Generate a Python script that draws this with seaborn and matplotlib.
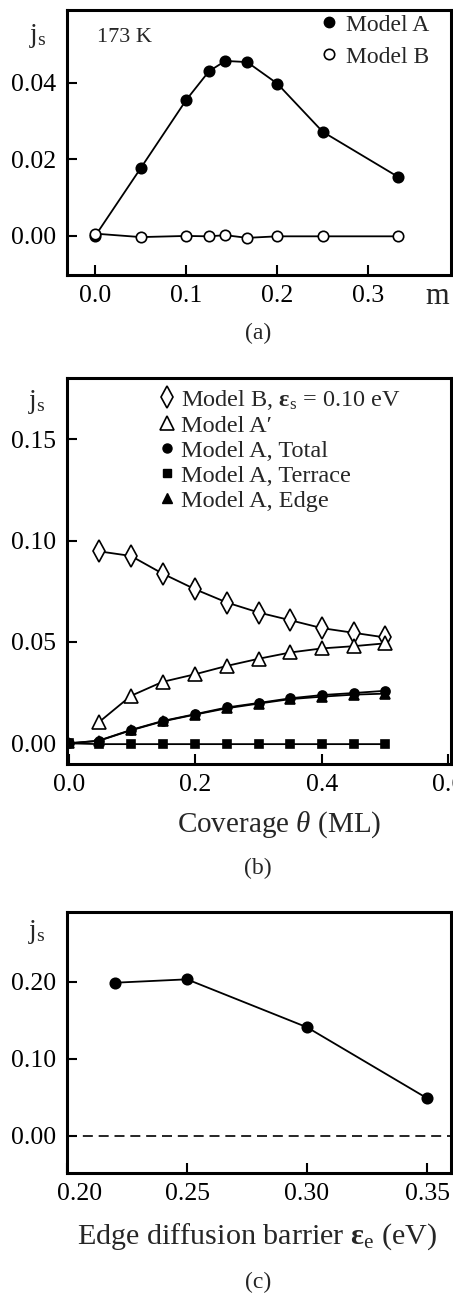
import numpy as np
import pandas as pd
import matplotlib
matplotlib.use("Agg")
import matplotlib.pyplot as plt
import matplotlib.transforms as mtransforms
from matplotlib.lines import Line2D
import seaborn as sns

# -----------------------------
# Data
# -----------------------------
# (a) j_s vs m at 173 K
m_vals = [0.0, 0.05, 0.10, 0.125, 0.143, 0.167, 0.20, 0.25, 0.333]
js_model_a = [0.0, 0.0177, 0.0355, 0.0430, 0.0457, 0.0454, 0.0398, 0.0272, 0.0154]
js_model_b = [0.0006, -0.0003, 0.0, -0.0001, 0.0002, -0.0005, -0.0001, -0.0001, -0.0001]

# (b) j_s vs coverage
theta_vals = [0.047, 0.098, 0.148, 0.20, 0.25, 0.30, 0.35, 0.40, 0.45, 0.50]
js_b_model_b = [0.0947, 0.0924, 0.0837, 0.0759, 0.0694, 0.0645, 0.0607, 0.0568, 0.0545, 0.0522]
js_b_model_a_prime = [0.0103, 0.0234, 0.0303, 0.0341, 0.0382, 0.0417, 0.0448, 0.0468, 0.0479, 0.0493]
theta_vals_a = [0.0] + theta_vals
js_b_total = [0.0, 0.0013, 0.0066, 0.0110, 0.0144, 0.0177, 0.0199, 0.0222, 0.0238, 0.0248, 0.0259]
js_b_terrace = [0.0, -0.0004, -0.0004, -0.0004, -0.0004, -0.0004, -0.0004, -0.0004, -0.0004, -0.0004, -0.0004]
js_b_edge = [0.0, 0.0012, 0.0064, 0.0108, 0.0142, 0.0173, 0.0196, 0.0218, 0.0230, 0.0240, 0.0245]

# (c) j_s vs edge diffusion barrier
eps_e = [0.22, 0.25, 0.30, 0.35]
js_c = [0.1987, 0.2031, 0.1408, 0.0486]

# -----------------------------
# Style
# -----------------------------
sns.set_theme(style="ticks")
plt.rcParams["font.family"] = ["Liberation Serif", "DejaVu Serif"]
plt.rcParams["mathtext.fontset"] = "custom"
plt.rcParams["mathtext.rm"] = "Liberation Serif"
plt.rcParams["mathtext.it"] = "Liberation Serif:italic"
plt.rcParams["mathtext.bf"] = "Liberation Serif:bold"
plt.rcParams["axes.edgecolor"] = "black"
plt.rcParams["axes.linewidth"] = 2.2
plt.rcParams["xtick.direction"] = "in"
plt.rcParams["ytick.direction"] = "in"
plt.rcParams["xtick.major.size"] = 7
plt.rcParams["ytick.major.size"] = 7
plt.rcParams["xtick.major.width"] = 1.5
plt.rcParams["ytick.major.width"] = 1.5
plt.rcParams["xtick.major.pad"] = 7
plt.rcParams["ytick.major.pad"] = 8
plt.rcParams["xtick.color"] = "black"
plt.rcParams["ytick.color"] = "black"

W, H = 453, 1294
fig = plt.figure(figsize=(W / 100, H / 100), dpi=100)


def px_axes(left, top, right, bottom):
    return fig.add_axes([left / W, 1 - bottom / H, (right - left) / W, (bottom - top) / H])


def px_text(x, y, s, **kw):
    fig.text(x / W, 1 - y / H, s, ha="center", va="center", **kw)


TICK_FS = 18.5
LW = 1.3
line_kw = dict(color="black", linewidth=LW, markeredgecolor="black", markeredgewidth=1.2)

# -----------------------------
# Panel (a)
# -----------------------------
ax_a = px_axes(67, 10, 451, 275)
sns.lineplot(x=m_vals, y=js_model_a, ax=ax_a, marker="o", markersize=7.5,
             markerfacecolor="black", **line_kw)
sns.lineplot(x=m_vals, y=js_model_b, ax=ax_a, marker="o", markersize=7.5,
             markerfacecolor="white", **line_kw)
ax_a.set_xlim(-0.031, 0.391)
ax_a.set_ylim(-0.0102, 0.059)
ax_a.set_xticks([0.0, 0.1, 0.2, 0.3], ["0.0", "0.1", "0.2", "0.3"])
ax_a.set_yticks([0.0, 0.02, 0.04], ["0.00", "0.02", "0.04"])
ax_a.set_xlabel("m", fontsize=22)
ax_a.xaxis.set_label_coords((437 - 67) / 384, (275 - 297) / 265)
ax_a.xaxis.label.set_va("center")
ax_a.text((97 - 67) / 384, (275 - 38) / 265, "173 K", transform=ax_a.transAxes,
          fontsize=16, ha="left", va="center")
handles_a = [
    Line2D([], [], ls="none", marker="o", markersize=7.5, color="black", markerfacecolor="black"),
    Line2D([], [], ls="none", marker="o", markersize=7.5, color="black", markerfacecolor="white",
           markeredgewidth=1.2),
]
ax_a.legend(handles_a, ["Model A", "Model B"], loc="upper left",
            bbox_to_anchor=((318 - 67) / 384, (275 - 14) / 265), frameon=False,
            fontsize=17, handlelength=0.9, handletextpad=0.3, labelspacing=0.45,
            borderaxespad=0, borderpad=0)
px_text(38, 36, r"$\mathrm{j}_\mathrm{s}$", fontsize=20)
px_text(258, 333, "(a)", fontsize=17)

# -----------------------------
# Panel (b)
# -----------------------------
ax_b = px_axes(67, 378.3, 451, 764)
sns.lineplot(x=theta_vals, y=js_b_model_b, ax=ax_b, marker="d", markersize=11,
             markerfacecolor="white", **line_kw)
sns.lineplot(x=theta_vals, y=js_b_model_a_prime, ax=ax_b, marker="^", markersize=9.5,
             markerfacecolor="white", **line_kw)
sns.lineplot(x=theta_vals_a, y=js_b_total, ax=ax_b, marker="o", markersize=6.5,
             markerfacecolor="black", **line_kw)
sns.lineplot(x=theta_vals_a, y=js_b_terrace, ax=ax_b, marker="s", markersize=6,
             markerfacecolor="black", **line_kw)
sns.lineplot(x=theta_vals_a, y=js_b_edge, ax=ax_b, marker="^", markersize=7,
             markerfacecolor="black", **line_kw)
ax_b.set_xlim(-0.003, 0.604)
ax_b.set_ylim(-0.0102, 0.18)
ax_b.set_xticks([0.0, 0.2, 0.4, 0.6], ["0.0", "0.2", "0.4", "0.6"])
ax_b.set_yticks([0.0, 0.05, 0.10, 0.15], ["0.00", "0.05", "0.10", "0.15"])
ax_b.set_xlabel(r"Coverage $\theta$ (ML)", fontsize=21)
ax_b.xaxis.set_label_coords((279 - 67) / 384, (764 - 825) / 385.7)
ax_b.xaxis.label.set_va("center")
handles_b = [
    Line2D([], [], ls="none", marker="d", markersize=11, color="black", markerfacecolor="white",
           markeredgewidth=1.2),
    Line2D([], [], ls="none", marker="^", markersize=9.5, color="black", markerfacecolor="white",
           markeredgewidth=1.2),
    Line2D([], [], ls="none", marker="o", markersize=6.5, color="black"),
    Line2D([], [], ls="none", marker="s", markersize=6, color="black"),
    Line2D([], [], ls="none", marker="^", markersize=7, color="black"),
]
labels_b = [r"Model B, $\mathbf{\varepsilon}_\mathrm{s}$ = 0.10 eV", "Model A\u2032",
            "Model A, Total", "Model A, Terrace", "Model A, Edge"]
ax_b.legend(handles_b, labels_b, loc="upper left",
            bbox_to_anchor=((157 - 67) / 384, (764 - 388) / 385.7), frameon=False,
            fontsize=17.5, handlelength=0.8, handletextpad=0.2, labelspacing=0.12,
            borderaxespad=0, borderpad=0)
px_text(37, 402, r"$\mathrm{j}_\mathrm{s}$", fontsize=20)
px_text(258, 868, "(b)", fontsize=17)

# -----------------------------
# Panel (c)
# -----------------------------
ax_c = px_axes(67, 911.7, 451, 1173.3)
sns.lineplot(x=eps_e, y=js_c, ax=ax_c, marker="o", markersize=7.5,
             markerfacecolor="black", **line_kw)
ax_c.axhline(0.0, color="black", linewidth=1.2, linestyle=(0, (6, 3.5)))
ax_c.set_xlim(0.20, 0.36)
ax_c.set_ylim(-0.049, 0.291)
ax_c.set_xticks([0.20, 0.25, 0.30, 0.35], ["0.20", "0.25", "0.30", "0.35"])
ax_c.set_yticks([0.0, 0.10, 0.20], ["0.00", "0.10", "0.20"])
ax_c.set_xlabel(r"Edge diffusion barrier $\mathbf{\varepsilon}_\mathrm{e}$ (eV)", fontsize=21.7)
ax_c.xaxis.set_label_coords((257 - 67) / 384, (1173.3 - 1237) / 261.6)
ax_c.xaxis.label.set_va("center")
px_text(37, 932, r"$\mathrm{j}_\mathrm{s}$", fontsize=20)
px_text(258, 1282, "(c)", fontsize=17)

for ax in (ax_a, ax_b, ax_c):
    ax.tick_params(labelsize=TICK_FS, top=False, right=False)
    ax.set_ylabel("")
    for sp in ax.spines.values():
        sp.set_visible(True)

# shift the first label of panel (c) to the right, as in the original
first = ax_c.get_xticklabels()[0]
first.set_transform(first.get_transform() + mtransforms.ScaledTranslation(13 / 100, 0, fig.dpi_scale_trans))

fig.savefig("out.png", dpi=100)
